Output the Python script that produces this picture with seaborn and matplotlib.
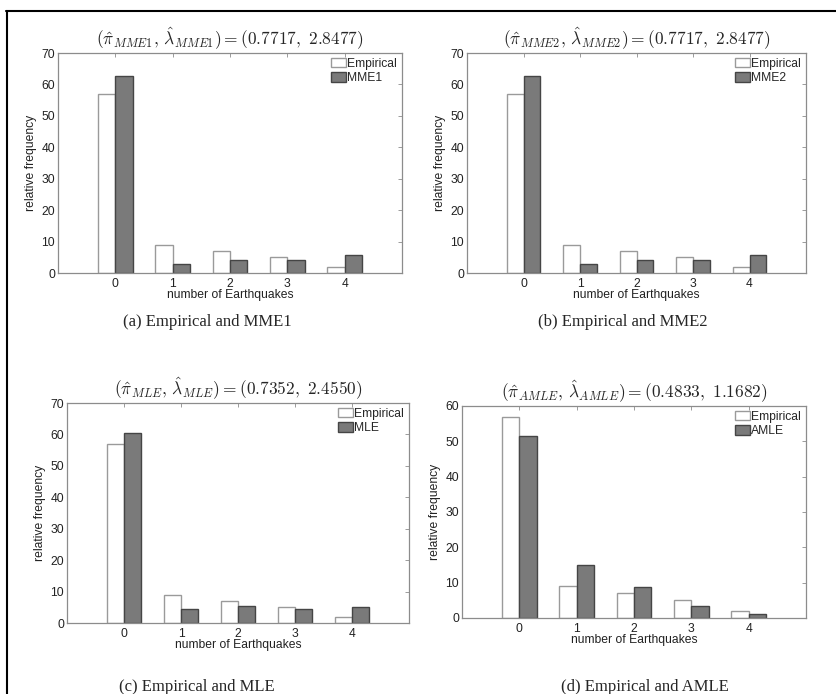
import matplotlib
matplotlib.use("Agg")
import matplotlib.pyplot as plt
import pandas as pd
import seaborn as sns
from matplotlib.lines import Line2D

counts = ["0", "1", "2", "3", "4"]
empirical = [57.0, 9.0, 7.0, 5.0, 2.0]
mme1 = [62.7, 3.0, 4.2, 4.0, 5.7]
mme2 = [62.7, 3.0, 4.2, 4.0, 5.7]
mle = [60.4, 4.4, 5.4, 4.4, 5.0]
amle = [51.5, 14.9, 8.7, 3.4, 1.2]

methods = ["MME1", "MME2", "MLE", "AMLE"]
pi_hat = ["0.7717", "0.7717", "0.7352", "0.4833"]
lambda_hat = ["2.8477", "2.8477", "2.4550", "1.1682"]
captions = ["(a) Empirical and MME1", "(b) Empirical and MME2",
            "(c) Empirical and MLE", "(d) Empirical and AMLE"]
y_max = [70, 70, 70, 60]

W, H = 836, 694
# axes boxes in pixels: left, top, right, bottom
boxes = [(58, 53, 402, 273), (467, 53, 806, 273),
         (67, 403, 409, 623), (462, 406, 806, 618)]
caption_xy = [(207, 322), (623, 322), (197, 687), (645, 687)]

sns.set_style("white")
plt.rcParams["font.family"] = ["Liberation Sans", "DejaVu Sans"]
plt.rcParams["mathtext.fontset"] = "cm"

frame_col = "#8c8c8c"
fig = plt.figure(figsize=(W / 100, H / 100), dpi=100)

for i, model in enumerate([mme1, mme2, mle, amle]):
    l, t, r, b = boxes[i]
    ax = fig.add_axes([l / W, 1 - b / H, (r - l) / W, (b - t) / H])
    df = pd.DataFrame({
        "count": counts * 2,
        "freq": empirical + model,
        "source": ["Empirical"] * 5 + [methods[i]] * 5,
    })
    sns.barplot(data=df, x="count", y="freq", hue="source", ax=ax,
                palette={"Empirical": "white", methods[i]: "#7a7a7a"},
                width=0.6, saturation=1, linewidth=1.0)
    edge = {"Empirical": "#9a9a9a", methods[i]: "#454545"}
    for cont, name in zip(ax.containers, ["Empirical", methods[i]]):
        for p in cont:
            p.set_edgecolor(edge[name])
    ax.set_xlim(-1, 5)
    ax.set_ylim(0, y_max[i])
    ax.set_yticks(range(0, y_max[i] + 1, 10))
    ax.tick_params(direction="in", length=3, width=0.6, color=frame_col,
                   top=True, right=True, labelsize=8.7, pad=2,
                   labelcolor="#222222")
    ax.tick_params(axis="x", pad=3.5)
    for s in ax.spines.values():
        s.set_color(frame_col)
        s.set_linewidth(0.9)
    ax.set_xlabel("number of Earthquakes", fontsize=8.7, labelpad=-0.5,
                  color="#222222")
    ax.set_ylabel("relative frequency", fontsize=8.7, labelpad=3,
                  color="#222222")
    leg = ax.legend(loc="upper right", frameon=False, fontsize=8.7,
                    handlelength=1.25, handleheight=0.85, handletextpad=0.15,
                    labelspacing=0.2, borderaxespad=0.2, borderpad=0.2)
    for h, name in zip(leg.legend_handles, ["Empirical", methods[i]]):
        h.set_edgecolor(edge[name])

    sub = methods[i]
    ax.text(0.5, 1 + 14 / (b - t),
            r"$(\hat{\pi}_{%s},\, \hat{\lambda}_{%s}) = (%s,\ %s)$"
            % (sub, sub, pi_hat[i], lambda_hat[i]),
            transform=ax.transAxes, ha="center", va="center", fontsize=12.5)
    cx, cy = caption_xy[i]
    fig.text(cx / W, 1 - cy / H, captions[i], ha="center", va="center",
             fontsize=12, family=["Liberation Serif", "DejaVu Serif"])

# page frame (top and left edges)
fig.add_artist(Line2D([6 / W, 1], [1 - 10.5 / H, 1 - 10.5 / H],
                      transform=fig.transFigure, color="black", lw=1.5))
fig.add_artist(Line2D([6.5 / W, 6.5 / W], [0, 1 - 10.5 / H],
                      transform=fig.transFigure, color="black", lw=1.5))

fig.savefig("out.png", dpi=100)
